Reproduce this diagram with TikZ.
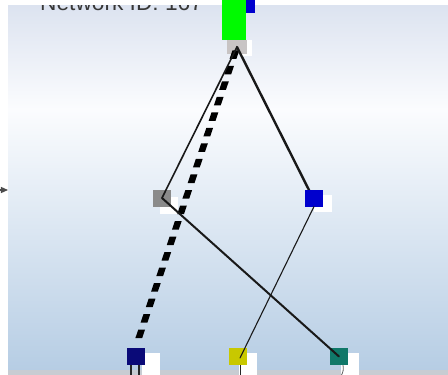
\documentclass[tikz,border=0pt]{standalone}
\usepackage{fontspec}
\setmainfont{Liberation Sans}
\usetikzlibrary{arrows.meta,calc}
\definecolor{ptop}{RGB}{220,227,240}
\definecolor{pmid}{RGB}{251,252,254}
\definecolor{pbot}{RGB}{182,205,228}
\definecolor{pbar}{RGB}{200,204,210}
\definecolor{cgreen}{RGB}{0,250,0}
\definecolor{cblue}{RGB}{0,0,205}
\definecolor{cnavy}{RGB}{10,10,120}
\definecolor{cyellow}{RGB}{200,200,0}
\definecolor{cteal}{RGB}{16,120,105}
\definecolor{cgray}{RGB}{138,138,138}
\definecolor{cport}{RGB}{200,196,196}
\pgfdeclareverticalshading{panelshade}{100bp}{color(0bp)=(pbot); color(25bp)=(pbot); color(60.7bp)=(pmid); color(75bp)=(ptop); color(100bp)=(ptop)}
\tikzset{
  box/.style={rectangle, inner sep=0pt, minimum width=18pt, minimum height=17pt},
  shadowbox/.style={box, fill=white},
  bigshadow/.style={rectangle, inner sep=0pt, minimum width=18pt, minimum height=22pt, fill=white},
  link/.style={draw=black!90, line cap=round},
  dashpiece/.style={fill=black},
  stub/.style={draw=black!85, line width=1.3pt}
}
\begin{document}
\begin{tikzpicture}[x=1pt,y=-1pt]
\useasboundingbox (0,0) rectangle (448,375);
\fill[white] (0,0) rectangle (448,375);
\shade[shading=panelshade] (8,5) rectangle (448,370);
\fill[pbar] (8,370) rectangle (448,375);
\begin{scope}
  \clip (8,5) rectangle (448,370);
  \node[anchor=base west, inner sep=0pt, font=\fontsize{22.7}{24}\selectfont, text=black!78] (title) at (40,10) {Network ID: 167};
\end{scope}

% white label boxes
\node[shadowbox] (Lsh) at (169,205) {};
\node[shadowbox] (Rsh) at (323,203) {};
\node[rectangle, inner sep=0pt, minimum width=12pt, minimum height=16pt, fill=white] (Psh) at (246,48) {};
\node[bigshadow] (B1sh) at (151,364) {};
\node[bigshadow] (B2sh) at (248,364) {};
\node[bigshadow] (B3sh) at (350,364) {};

% nodes
\node[rectangle, inner sep=0pt, minimum width=24pt, minimum height=42pt, fill=cgreen] (top) at (234,19) {};
\node[rectangle, inner sep=0pt, minimum width=9pt, minimum height=14pt, fill=cblue] (topb) at (250.5,6) {};
\node[rectangle, inner sep=0pt, minimum width=20pt, minimum height=14pt, fill=cport] (port) at (237,47) {};
\node[box, fill=cgray] (L) at (162,198) {};
\node[box, fill=cnavy] (B1) at (135.5,356.5) {};
\node[box, fill=cyellow] (B2) at (237.5,356.5) {};
\node[box, fill=cteal] (B3) at (339,356.5) {};

% stubs below bottom nodes
\coordinate (s1) at (131,376);
\coordinate (s2) at (139,376);
\coordinate (s3) at (240,376);
\coordinate (s4) at (341,376);
\draw[stub] (B1.south -| s1) -- (s1);
\draw[stub] (B1.south -| s2) -- (s2);
\draw[stub, line width=1pt] (B2.south -| s3) -- (s3);
\draw[stub, line width=0.8pt, draw=black!60] (343,365) to[bend left=20] (s4);

% thick dashed connector (dashes with horizontal ends)
\foreach \k in {0,...,18} {
  \pgfmathsetmacro\ta{0.011+\k*0.0516}
  \pgfmathsetmacro\tb{\ta+0.0283}
  \fill[dashpiece] ($(port.center)!\ta!(B1.north)+(-3.4,0)$) -- ($(port.center)!\ta!(B1.north)+(3.4,0)$)
     -- ($(port.center)!\tb!(B1.north)+(3.4,0)$) -- ($(port.center)!\tb!(B1.north)+(-3.4,0)$) -- cycle;
}

% connectors
\draw[link, line width=1.6pt] (port.center) -- (L.center);
\draw[link, line width=2.4pt] (port.center) -- (313,198);
\draw[link, line width=2pt] (L.center) -- (B3.center);

% blue node on top of its links
\node[box, fill=cblue] (R) at (314,198) {};
\draw[link, line width=1.1pt] (R.center) ++(0,8.5) coordinate (Rb) (Rb) -- (240,358);

% incoming arrow on the left edge
\coordinate (inA) at (-3,190);
\coordinate (inB) at (8,190);
\draw[draw=black!70, line width=1.2pt, -{Triangle[length=7pt,width=6pt]}] (inA) -- (inB);
\end{tikzpicture}
\end{document}
